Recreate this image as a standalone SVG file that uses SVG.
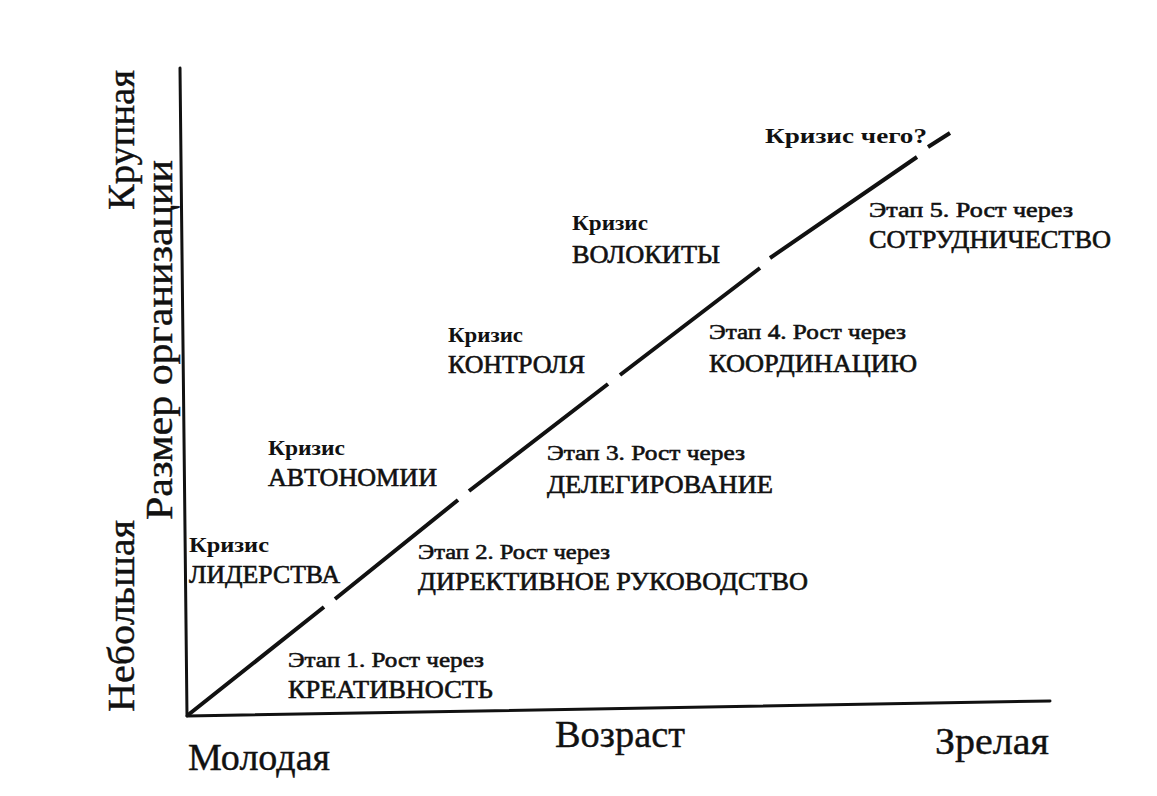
<svg xmlns="http://www.w3.org/2000/svg" width="1157" height="796" viewBox="0 0 1157 796">
<style>
  .ax { stroke:#111; stroke-width:3; fill:none; stroke-linecap:round; }
  .dg { stroke:#111; stroke-width:4; fill:none; stroke-linecap:butt; }
  text { font-family:"Liberation Serif","Times New Roman",serif; fill:#111; }
  .k { font-size:21px; font-weight:bold; }
  .s { font-size:22px; stroke:#111; stroke-width:0.6; }
  .c { font-size:25px; stroke:#111; stroke-width:0.6; }
  .big { font-size:38px; stroke:#111; stroke-width:0.4; }
</style>
<rect width="1157" height="796" fill="#fff"/>
<g id="connectors">
  <path class="ax" d="M180,68 L187,716"/>
  <path class="ax" d="M187,716 L1050,701"/>
  <path class="dg" d="M188,715 L324,607 M335,599 L458,500 M469,491 L608,384 M620,375 L760,268 M770,258 L917,157 M928,147 L950,133"/>
</g>
<g id="axis-labels">
  <text class="big" transform="translate(134,210) rotate(-90)" textLength="140" lengthAdjust="spacingAndGlyphs">Крупная</text>
  <text class="big" transform="translate(172,520) rotate(-90)" textLength="360" lengthAdjust="spacingAndGlyphs">Размер организации</text>
  <text class="big" transform="translate(134,712) rotate(-90)" textLength="192" lengthAdjust="spacingAndGlyphs">Небольшая</text>
  <text class="big" x="188" y="770" textLength="142" lengthAdjust="spacingAndGlyphs">Молодая</text>
  <text class="big" x="555" y="747" textLength="130" lengthAdjust="spacingAndGlyphs">Возраст</text>
  <text class="big" x="935" y="754" textLength="114" lengthAdjust="spacingAndGlyphs">Зрелая</text>
</g>
<g id="crisis-leadership">
  <text class="k" x="189" y="552" textLength="80" lengthAdjust="spacingAndGlyphs">Кризис</text>
  <text class="c" x="189" y="583" textLength="151" lengthAdjust="spacingAndGlyphs">ЛИДЕРСТВА</text>
</g>
<g id="stage-1">
  <text class="s" x="288" y="667" textLength="196" lengthAdjust="spacingAndGlyphs">Этап 1. Рост через</text>
  <text class="c" x="288" y="698" textLength="205" lengthAdjust="spacingAndGlyphs">КРЕАТИВНОСТЬ</text>
</g>
<g id="crisis-autonomy">
  <text class="k" x="268" y="455" textLength="77" lengthAdjust="spacingAndGlyphs">Кризис</text>
  <text class="c" x="268" y="486" textLength="169" lengthAdjust="spacingAndGlyphs">АВТОНОМИИ</text>
</g>
<g id="stage-2">
  <text class="s" x="418" y="559" textLength="192" lengthAdjust="spacingAndGlyphs">Этап 2. Рост через</text>
  <text class="c" x="418" y="590" textLength="390" lengthAdjust="spacingAndGlyphs">ДИРЕКТИВНОЕ РУКОВОДСТВО</text>
</g>
<g id="crisis-control">
  <text class="k" x="448" y="342" textLength="75" lengthAdjust="spacingAndGlyphs">Кризис</text>
  <text class="c" x="448" y="373" textLength="137" lengthAdjust="spacingAndGlyphs">КОНТРОЛЯ</text>
</g>
<g id="stage-3">
  <text class="s" x="547" y="460" textLength="198" lengthAdjust="spacingAndGlyphs">Этап 3. Рост через</text>
  <text class="c" x="547" y="493" textLength="226" lengthAdjust="spacingAndGlyphs">ДЕЛЕГИРОВАНИЕ</text>
</g>
<g id="crisis-red-tape">
  <text class="k" x="572" y="230" textLength="76" lengthAdjust="spacingAndGlyphs">Кризис</text>
  <text class="c" x="572" y="263" textLength="148" lengthAdjust="spacingAndGlyphs">ВОЛОКИТЫ</text>
</g>
<g id="stage-4">
  <text class="s" x="709" y="339" textLength="197" lengthAdjust="spacingAndGlyphs">Этап 4. Рост через</text>
  <text class="c" x="709" y="372" textLength="208" lengthAdjust="spacingAndGlyphs">КООРДИНАЦИЮ</text>
</g>
<g id="stage-5">
  <text class="s" x="869" y="217" textLength="204" lengthAdjust="spacingAndGlyphs">Этап 5. Рост через</text>
  <text class="c" x="869" y="248" textLength="242" lengthAdjust="spacingAndGlyphs">СОТРУДНИЧЕСТВО</text>
</g>
<g id="crisis-what">
  <text class="k" x="765" y="143" font-size="23" textLength="162" lengthAdjust="spacingAndGlyphs">Кризис чего?</text>
</g>
</svg>
